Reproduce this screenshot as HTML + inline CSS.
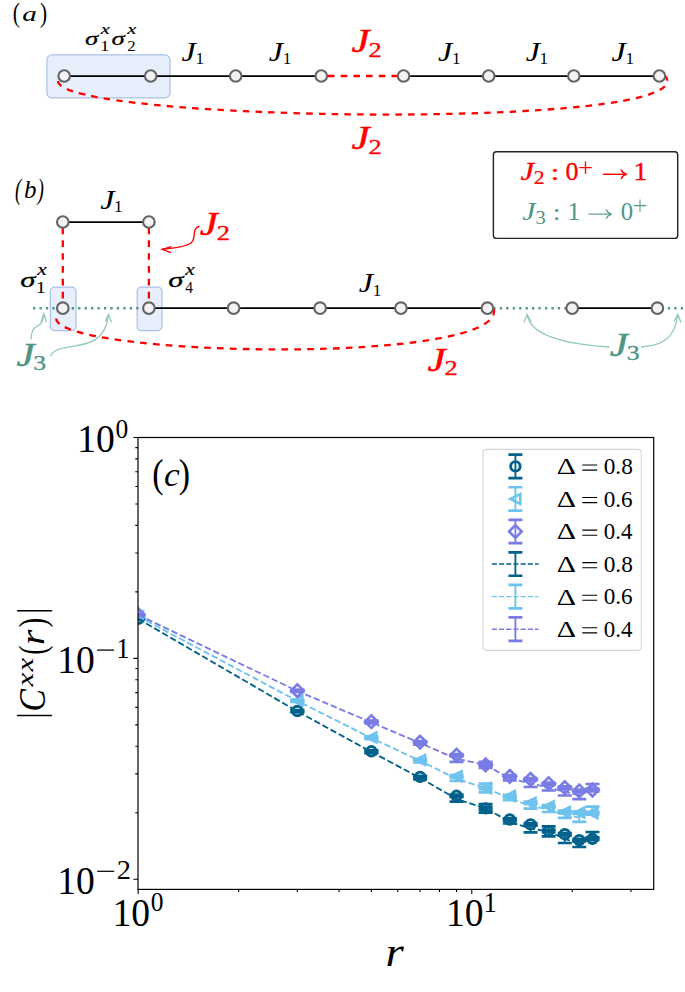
<!DOCTYPE html>
<html><head><meta charset="utf-8"><title>figure</title>
<style>
html,body{margin:0;padding:0;background:#fff;}
body{width:685px;height:992px;overflow:hidden;font-family:'Liberation Serif',serif;}
svg{display:block;font-family:'Liberation Serif',serif;}
</style></head><body>
<svg width="685" height="992" viewBox="0 0 685 992">
<rect width="685" height="992" fill="#fff"/>
<text transform="translate(12.76,21.73) scale(0.2141,0.2757)" font-size="100" fill="#000" style="" >(</text><text transform="translate(22.33,21.38) scale(0.2913,0.2142)" font-size="100" fill="#000" style="font-style:italic;" >a</text><text transform="translate(40.01,21.73) scale(0.2141,0.2757)" font-size="100" fill="#000" style="" >)</text>
<rect x="46.9" y="54.9" width="123.1" height="43" rx="5" fill="#e7eefc" stroke="#a9c0e8" stroke-width="1.2"/>
<path d="M 58,81 C 57,121.7 703.1,131.2 665.8,76.5" fill="none" stroke="#ff0000" stroke-width="2.3" stroke-dasharray="6.5,6.2"/>
<line x1="64.2" y1="76" x2="321.3" y2="76" stroke="#000" stroke-width="1.75"/>
<line x1="321.3" y1="76" x2="403.6" y2="76" stroke="#ff0000" stroke-width="2.3" stroke-dasharray="6.5,6.2" stroke-dashoffset="6.0"/>
<line x1="403.6" y1="76" x2="659.4" y2="76" stroke="#000" stroke-width="1.75"/>
<circle cx="64.2" cy="76" r="5.8" fill="#f2f2f2" stroke="#646464" stroke-width="2.1"/>
<circle cx="150.7" cy="76" r="5.8" fill="#f2f2f2" stroke="#646464" stroke-width="2.1"/>
<circle cx="235.7" cy="76" r="5.8" fill="#f2f2f2" stroke="#646464" stroke-width="2.1"/>
<circle cx="321.3" cy="76" r="5.8" fill="#f2f2f2" stroke="#646464" stroke-width="2.1"/>
<circle cx="403.6" cy="76" r="5.8" fill="#f2f2f2" stroke="#646464" stroke-width="2.1"/>
<circle cx="488.7" cy="76" r="5.8" fill="#f2f2f2" stroke="#646464" stroke-width="2.1"/>
<circle cx="573.8" cy="76" r="5.8" fill="#f2f2f2" stroke="#646464" stroke-width="2.1"/>
<circle cx="659.4" cy="76" r="5.8" fill="#f2f2f2" stroke="#646464" stroke-width="2.1"/>
<text transform="translate(84.90,45.21) scale(0.2686,0.1941)" font-size="100" fill="#000" style="font-style:italic;" stroke="#000" stroke-width="1.3">σ</text><text transform="translate(100.65,33.70) scale(0.2050,0.1547)" font-size="100" fill="#000" style="font-style:italic;" stroke="#000" stroke-width="1.3">x</text><text transform="translate(99.93,51.10) scale(0.1903,0.1545)" font-size="100" fill="#000" style="" >1</text>
<text transform="translate(111.40,45.21) scale(0.2686,0.1941)" font-size="100" fill="#000" style="font-style:italic;" stroke="#000" stroke-width="1.3">σ</text><text transform="translate(127.15,33.70) scale(0.2050,0.1547)" font-size="100" fill="#000" style="font-style:italic;" stroke="#000" stroke-width="1.3">x</text><text transform="translate(127.37,51.10) scale(0.1671,0.1541)" font-size="100" fill="#000" style="" >2</text>
<text transform="translate(181.51,60.64) scale(0.3207,0.2633)" font-size="100" fill="#000" style="font-style:italic;" >J</text><text transform="translate(195.38,64.40) scale(0.1733,0.1666)" font-size="100" fill="#000" style="" >1</text>
<text transform="translate(268.81,60.64) scale(0.3207,0.2633)" font-size="100" fill="#000" style="font-style:italic;" >J</text><text transform="translate(282.68,64.40) scale(0.1733,0.1666)" font-size="100" fill="#000" style="" >1</text>
<text transform="translate(438.11,60.64) scale(0.3207,0.2633)" font-size="100" fill="#000" style="font-style:italic;" >J</text><text transform="translate(451.98,64.40) scale(0.1733,0.1666)" font-size="100" fill="#000" style="" >1</text>
<text transform="translate(525.71,60.64) scale(0.3207,0.2633)" font-size="100" fill="#000" style="font-style:italic;" >J</text><text transform="translate(539.58,64.40) scale(0.1733,0.1666)" font-size="100" fill="#000" style="" >1</text>
<text transform="translate(611.61,60.64) scale(0.3207,0.2633)" font-size="100" fill="#000" style="font-style:italic;" >J</text><text transform="translate(625.48,64.40) scale(0.1733,0.1666)" font-size="100" fill="#000" style="" >1</text>
<text transform="translate(351.39,52.37) scale(0.4062,0.3386)" font-size="100" fill="#ff0000" style="font-style:italic;" stroke="#ff0000" stroke-width="1.5">J</text><text transform="translate(368.44,57.00) scale(0.2644,0.2145)" font-size="100" fill="#ff0000" style="" stroke="#ff0000" stroke-width="1.6">2</text>
<text transform="translate(351.39,149.37) scale(0.4062,0.3386)" font-size="100" fill="#ff0000" style="font-style:italic;" stroke="#ff0000" stroke-width="1.5">J</text><text transform="translate(368.44,154.00) scale(0.2644,0.2145)" font-size="100" fill="#ff0000" style="" stroke="#ff0000" stroke-width="1.6">2</text>
<rect x="493.4" y="151.8" width="184.3" height="86.6" rx="3" fill="#fff" stroke="#222" stroke-width="1.4"/>
<text transform="translate(520.44,179.95) scale(0.3057,0.2543)" font-size="100" fill="#ff0000" style="font-style:italic;" stroke="#ff0000" stroke-width="1.3">J</text><text transform="translate(533.65,183.90) scale(0.2170,0.1888)" font-size="100" fill="#ff0000" style="" stroke="#ff0000" stroke-width="1.3">2</text>
<text transform="translate(550.55,179.87) scale(0.3229,0.2358)" font-size="100" fill="#ff0000" style="" stroke="#ff0000" stroke-width="1.3">:</text>
<text transform="translate(565.61,180.25) scale(0.2595,0.2549)" font-size="100" fill="#ff0000" style="" stroke="#ff0000" stroke-width="1.3">0</text>
<path d="M 579.30,167.60 H 591.70 M 585.50,161.40 V 173.80" stroke="#ff0000" stroke-width="1.35" fill="none"/>
<path d="M 603.00,174.30 H 626.00" stroke="#ff0000" stroke-width="1.45" fill="none"/><path d="M 621.40,170.00 C 622.40,172.70 624.40,173.80 626.60,174.30 C 624.40,174.80 622.40,175.90 621.40,178.60" stroke="#ff0000" stroke-width="1.45" fill="none" stroke-linecap="round"/>
<text transform="translate(633.55,180.20) scale(0.2784,0.2560)" font-size="100" fill="#ff0000" style="" stroke="#ff0000" stroke-width="1.3">1</text>
<text transform="translate(522.25,219.85) scale(0.2993,0.2513)" font-size="100" fill="#4f9585" style="font-style:italic;" >J</text><text transform="translate(535.52,223.71) scale(0.2058,0.1935)" font-size="100" fill="#4f9585" style="" >3</text>
<text transform="translate(552.55,219.77) scale(0.2974,0.2338)" font-size="100" fill="#4f9585" style="" >:</text>
<text transform="translate(567.55,220.10) scale(0.2556,0.2530)" font-size="100" fill="#4f9585" style="" >1</text>
<path d="M 588.40,214.10 H 611.00" stroke="#4f9585" stroke-width="1.1" fill="none"/><path d="M 606.40,209.80 C 607.40,212.50 609.40,213.60 611.60,214.10 C 609.40,214.60 607.40,215.70 606.40,218.40" stroke="#4f9585" stroke-width="1.1" fill="none" stroke-linecap="round"/>
<text transform="translate(620.76,220.15) scale(0.2477,0.2519)" font-size="100" fill="#4f9585" style="" >0</text>
<path d="M 633.80,205.60 H 646.20 M 640.00,199.40 V 211.80" stroke="#4f9585" stroke-width="1.05" fill="none"/>
<text transform="translate(15.03,198.75) scale(0.1919,0.2934)" font-size="100" fill="#000" style="font-style:italic;" >(</text><text transform="translate(23.97,198.14) scale(0.2496,0.2615)" font-size="100" fill="#000" style="font-style:italic;" >b</text><text transform="translate(37.51,198.75) scale(0.1916,0.2934)" font-size="100" fill="#000" style="font-style:italic;" >)</text>
<rect x="50.4" y="287.2" width="25.6" height="43.4" rx="4" fill="#e7eefc" stroke="#a9c0e8" stroke-width="1.2"/>
<rect x="137.2" y="287.2" width="24.8" height="43.4" rx="4" fill="#e7eefc" stroke="#a9c0e8" stroke-width="1.2"/>
<line x1="33" y1="308.2" x2="148.9" y2="308.2" stroke="#4f9585" stroke-width="2.35" stroke-dasharray="2.25,4.2"/>
<line x1="487.4" y1="308.2" x2="572.2" y2="308.2" stroke="#4f9585" stroke-width="2.35" stroke-dasharray="2.25,4.2" stroke-dashoffset="0.5"/>
<line x1="657.4" y1="308.2" x2="686" y2="308.2" stroke="#4f9585" stroke-width="2.35" stroke-dasharray="2.25,4.2" stroke-dashoffset="-4"/>
<line x1="62.8" y1="222" x2="62.8" y2="308.2" stroke="#ff0000" stroke-width="2.3" stroke-dasharray="6.7,6.15" fill="none" stroke-dashoffset="7.4"/>
<line x1="148.9" y1="222" x2="148.9" y2="308.2" stroke="#ff0000" stroke-width="2.3" stroke-dasharray="6.7,6.15" fill="none" stroke-dashoffset="7.4"/>
<path d="M 56.2,318.5 C 57.0,356.5 509.4,366.5 493.7,308.0" stroke="#ff0000" stroke-width="2.3" stroke-dasharray="6.7,6.15" fill="none"/>
<line x1="62.8" y1="222" x2="148.9" y2="222" stroke="#000" stroke-width="1.75"/>
<line x1="148.9" y1="308.2" x2="487.4" y2="308.2" stroke="#000" stroke-width="1.75"/>
<line x1="572.2" y1="308.2" x2="657.4" y2="308.2" stroke="#000" stroke-width="1.75"/>
<circle cx="62.8" cy="222" r="5.8" fill="#f2f2f2" stroke="#646464" stroke-width="2.1"/>
<circle cx="148.9" cy="222" r="5.8" fill="#f2f2f2" stroke="#646464" stroke-width="2.1"/>
<circle cx="62.8" cy="308.2" r="5.8" fill="#f2f2f2" stroke="#646464" stroke-width="2.1"/>
<circle cx="148.9" cy="308.2" r="5.8" fill="#f2f2f2" stroke="#646464" stroke-width="2.1"/>
<circle cx="233.6" cy="308.2" r="5.8" fill="#f2f2f2" stroke="#646464" stroke-width="2.1"/>
<circle cx="320.1" cy="308.2" r="5.8" fill="#f2f2f2" stroke="#646464" stroke-width="2.1"/>
<circle cx="400.9" cy="308.2" r="5.8" fill="#f2f2f2" stroke="#646464" stroke-width="2.1"/>
<circle cx="487.4" cy="308.2" r="5.8" fill="#f2f2f2" stroke="#646464" stroke-width="2.1"/>
<circle cx="572.2" cy="308.2" r="5.8" fill="#f2f2f2" stroke="#646464" stroke-width="2.1"/>
<circle cx="657.4" cy="308.2" r="5.8" fill="#f2f2f2" stroke="#646464" stroke-width="2.1"/>
<text transform="translate(100.21,208.54) scale(0.3207,0.2633)" font-size="100" fill="#000" style="font-style:italic;" >J</text><text transform="translate(114.08,212.30) scale(0.1733,0.1666)" font-size="100" fill="#000" style="" >1</text>
<text transform="translate(358.81,292.04) scale(0.3207,0.2633)" font-size="100" fill="#000" style="font-style:italic;" >J</text><text transform="translate(372.68,295.80) scale(0.1733,0.1666)" font-size="100" fill="#000" style="" >1</text>
<text transform="translate(199.79,235.27) scale(0.4062,0.3386)" font-size="100" fill="#ff0000" style="font-style:italic;" stroke="#ff0000" stroke-width="1.5">J</text><text transform="translate(216.84,239.90) scale(0.2644,0.2145)" font-size="100" fill="#ff0000" style="" stroke="#ff0000" stroke-width="1.6">2</text>
<text transform="translate(427.39,370.67) scale(0.4062,0.3386)" font-size="100" fill="#ff0000" style="font-style:italic;" stroke="#ff0000" stroke-width="1.5">J</text><text transform="translate(444.44,375.30) scale(0.2644,0.2145)" font-size="100" fill="#ff0000" style="" stroke="#ff0000" stroke-width="1.6">2</text>
<text transform="translate(16.39,365.57) scale(0.4062,0.3386)" font-size="100" fill="#4f9585" style="font-style:italic;" stroke="#4f9585" stroke-width="1.5">J</text><text transform="translate(33.37,369.99) scale(0.2566,0.2113)" font-size="100" fill="#4f9585" style="" stroke="#4f9585" stroke-width="1.6">3</text>
<text transform="translate(609.69,355.57) scale(0.4062,0.3386)" font-size="100" fill="#4f9585" style="font-style:italic;" stroke="#4f9585" stroke-width="1.5">J</text><text transform="translate(626.67,359.99) scale(0.2566,0.2113)" font-size="100" fill="#4f9585" style="" stroke="#4f9585" stroke-width="1.6">3</text>
<text transform="translate(20.18,286.89) scale(0.3090,0.2113)" font-size="100" fill="#000" style="font-style:italic;" stroke="#000" stroke-width="1.3">σ</text><text transform="translate(37.16,274.90) scale(0.2139,0.1656)" font-size="100" fill="#000" style="font-style:italic;" stroke="#000" stroke-width="1.3">x</text><text transform="translate(35.70,293.00) scale(0.2045,0.1681)" font-size="100" fill="#000" style="" >1</text>
<text transform="translate(168.28,286.89) scale(0.3090,0.2113)" font-size="100" fill="#000" style="font-style:italic;" stroke="#000" stroke-width="1.3">σ</text><text transform="translate(185.26,274.90) scale(0.2139,0.1656)" font-size="100" fill="#000" style="font-style:italic;" stroke="#000" stroke-width="1.3">x</text><text transform="translate(185.30,293.00) scale(0.1549,0.1686)" font-size="100" fill="#000" style="" >4</text>
<path d="M 199.6,226.3 C 191,228 197,238 191,243 C 185,247.5 172,248 162.5,249.2" fill="none" stroke="#ff0000" stroke-width="1.4"/>
<path d="M 171.5,246.6 L 162.3,249.3 L 171,252.6" fill="none" stroke="#ff0000" stroke-width="1.4"/>
<path d="M 31,339.5 C 31.3,331.5 33,328.3 37.2,326.2 C 41.3,324.2 43,321.5 43.8,314.2" fill="none" stroke="#93c9b9" stroke-width="1.3"/>
<path d="M 41,321.6 L 43.8,313.8 L 46.5,322" fill="none" stroke="#93c9b9" stroke-width="1.3"/>
<path d="M 50.3,356.2 C 60,338 104,358 108.5,314.8" fill="none" stroke="#93c9b9" stroke-width="1.3"/>
<path d="M 105.3,321.8 L 108.5,314.3 L 111.4,322.3" fill="none" stroke="#93c9b9" stroke-width="1.3"/>
<path d="M 609.5,347 C 575,345 531,338 527.2,315" fill="none" stroke="#93c9b9" stroke-width="1.3"/>
<path d="M 523.8,322.4 L 527.1,314.4 L 531.2,321.8" fill="none" stroke="#93c9b9" stroke-width="1.3"/>
<path d="M 641,347 C 662,346 675,338 677.8,315" fill="none" stroke="#93c9b9" stroke-width="1.3"/>
<path d="M 674,321.8 L 677.8,314.4 L 681,322.4" fill="none" stroke="#93c9b9" stroke-width="1.3"/>
<path d="M 133.4,437.50 H 138.0 M 133.4,658.40 H 138.0 M 133.4,879.30 H 138.0 M 135.3,591.90 H 138.0 M 135.3,553.00 H 138.0 M 135.3,525.40 H 138.0 M 135.3,504.00 H 138.0 M 135.3,486.51 H 138.0 M 135.3,471.72 H 138.0 M 135.3,458.91 H 138.0 M 135.3,447.61 H 138.0 M 135.3,812.80 H 138.0 M 135.3,773.90 H 138.0 M 135.3,746.30 H 138.0 M 135.3,724.90 H 138.0 M 135.3,707.41 H 138.0 M 135.3,692.62 H 138.0 M 135.3,679.81 H 138.0 M 135.3,668.51 H 138.0 M 138.20,889.4 V 894.0 M 471.80,889.4 V 894.0 M 238.62,889.4 V 892.1 M 297.37,889.4 V 892.1 M 339.05,889.4 V 892.1 M 371.38,889.4 V 892.1 M 397.79,889.4 V 892.1 M 420.12,889.4 V 892.1 M 439.47,889.4 V 892.1 M 456.54,889.4 V 892.1 M 572.22,889.4 V 892.1 M 630.97,889.4 V 892.1" stroke="#000" stroke-width="1.1" fill="none"/>
<clipPath id="cp"><rect x="138.0" y="437.5" width="515.7" height="451.9"/></clipPath>
<g clip-path="url(#cp)">
<path d="M 138.20,618.50 V 619.10" stroke="#00628b" stroke-width="1.85" fill="none"/><path d="M 131.20,618.50 H 145.20 M 131.20,619.10 H 145.20" stroke="#00628b" stroke-width="2.7" fill="none"/>
<circle cx="138.20" cy="618.80" r="4.75" fill="none" stroke="#00628b" stroke-width="2.9"/>
<path d="M 297.37,710.20 V 711.80" stroke="#00628b" stroke-width="1.85" fill="none"/><path d="M 290.37,710.20 H 304.37 M 290.37,711.80 H 304.37" stroke="#00628b" stroke-width="2.7" fill="none"/>
<circle cx="297.37" cy="711.00" r="4.75" fill="none" stroke="#00628b" stroke-width="2.9"/>
<path d="M 371.38,750.30 V 752.30" stroke="#00628b" stroke-width="1.85" fill="none"/><path d="M 364.38,750.30 H 378.38 M 364.38,752.30 H 378.38" stroke="#00628b" stroke-width="2.7" fill="none"/>
<circle cx="371.38" cy="751.30" r="4.75" fill="none" stroke="#00628b" stroke-width="2.9"/>
<path d="M 420.12,775.80 V 778.00" stroke="#00628b" stroke-width="1.85" fill="none"/><path d="M 413.12,775.80 H 427.12 M 413.12,778.00 H 427.12" stroke="#00628b" stroke-width="2.7" fill="none"/>
<circle cx="420.12" cy="776.90" r="4.75" fill="none" stroke="#00628b" stroke-width="2.9"/>
<path d="M 456.54,794.60 V 797.00" stroke="#00628b" stroke-width="1.85" fill="none"/><path d="M 449.54,794.60 H 463.54 M 449.54,797.00 H 463.54" stroke="#00628b" stroke-width="2.7" fill="none"/>
<circle cx="456.54" cy="795.80" r="4.75" fill="none" stroke="#00628b" stroke-width="2.9"/>
<path d="M 485.61,807.20 V 809.60" stroke="#00628b" stroke-width="1.85" fill="none"/><path d="M 478.61,807.20 H 492.61 M 478.61,809.60 H 492.61" stroke="#00628b" stroke-width="2.7" fill="none"/>
<circle cx="485.61" cy="808.40" r="4.75" fill="none" stroke="#00628b" stroke-width="2.9"/>
<path d="M 509.81,818.30 V 820.70" stroke="#00628b" stroke-width="1.85" fill="none"/><path d="M 502.81,818.30 H 516.81 M 502.81,820.70 H 516.81" stroke="#00628b" stroke-width="2.7" fill="none"/>
<circle cx="509.81" cy="819.50" r="4.75" fill="none" stroke="#00628b" stroke-width="2.9"/>
<path d="M 530.54,823.20 V 825.60" stroke="#00628b" stroke-width="1.85" fill="none"/><path d="M 523.54,823.20 H 537.54 M 523.54,825.60 H 537.54" stroke="#00628b" stroke-width="2.7" fill="none"/>
<circle cx="530.54" cy="824.40" r="4.75" fill="none" stroke="#00628b" stroke-width="2.9"/>
<path d="M 548.68,829.80 V 832.20" stroke="#00628b" stroke-width="1.85" fill="none"/><path d="M 541.68,829.80 H 555.68 M 541.68,832.20 H 555.68" stroke="#00628b" stroke-width="2.7" fill="none"/>
<circle cx="548.68" cy="831.00" r="4.75" fill="none" stroke="#00628b" stroke-width="2.9"/>
<path d="M 564.79,833.00 V 835.40" stroke="#00628b" stroke-width="1.85" fill="none"/><path d="M 557.79,833.00 H 571.79 M 557.79,835.40 H 571.79" stroke="#00628b" stroke-width="2.7" fill="none"/>
<circle cx="564.79" cy="834.20" r="4.75" fill="none" stroke="#00628b" stroke-width="2.9"/>
<path d="M 579.29,838.80 V 841.40" stroke="#00628b" stroke-width="1.85" fill="none"/><path d="M 572.29,838.80 H 586.29 M 572.29,841.40 H 586.29" stroke="#00628b" stroke-width="2.7" fill="none"/>
<circle cx="579.29" cy="840.10" r="4.75" fill="none" stroke="#00628b" stroke-width="2.9"/>
<path d="M 592.47,837.40 V 840.20" stroke="#00628b" stroke-width="1.85" fill="none"/><path d="M 585.47,837.40 H 599.47 M 585.47,840.20 H 599.47" stroke="#00628b" stroke-width="2.7" fill="none"/>
<circle cx="592.47" cy="838.80" r="4.75" fill="none" stroke="#00628b" stroke-width="2.9"/>
<path d="M 138.20,616.00 V 616.60" stroke="#6ec3ee" stroke-width="1.85" fill="none"/><path d="M 131.20,616.00 H 145.20 M 131.20,616.60 H 145.20" stroke="#6ec3ee" stroke-width="2.7" fill="none"/>
<path d="M 133.30,616.30 L 143.10,611.40 L 143.10,621.20 Z" fill="none" stroke="#6ec3ee" stroke-width="2.6" stroke-linejoin="miter"/>
<path d="M 297.37,699.80 V 701.40" stroke="#6ec3ee" stroke-width="1.85" fill="none"/><path d="M 290.37,699.80 H 304.37 M 290.37,701.40 H 304.37" stroke="#6ec3ee" stroke-width="2.7" fill="none"/>
<path d="M 292.47,700.60 L 302.27,695.70 L 302.27,705.50 Z" fill="none" stroke="#6ec3ee" stroke-width="2.6" stroke-linejoin="miter"/>
<path d="M 371.38,736.40 V 738.40" stroke="#6ec3ee" stroke-width="1.85" fill="none"/><path d="M 364.38,736.40 H 378.38 M 364.38,738.40 H 378.38" stroke="#6ec3ee" stroke-width="2.7" fill="none"/>
<path d="M 366.48,737.40 L 376.28,732.50 L 376.28,742.30 Z" fill="none" stroke="#6ec3ee" stroke-width="2.6" stroke-linejoin="miter"/>
<path d="M 420.12,758.80 V 761.00" stroke="#6ec3ee" stroke-width="1.85" fill="none"/><path d="M 413.12,758.80 H 427.12 M 413.12,761.00 H 427.12" stroke="#6ec3ee" stroke-width="2.7" fill="none"/>
<path d="M 415.22,759.90 L 425.02,755.00 L 425.02,764.80 Z" fill="none" stroke="#6ec3ee" stroke-width="2.6" stroke-linejoin="miter"/>
<path d="M 456.54,775.00 V 777.40" stroke="#6ec3ee" stroke-width="1.85" fill="none"/><path d="M 449.54,775.00 H 463.54 M 449.54,777.40 H 463.54" stroke="#6ec3ee" stroke-width="2.7" fill="none"/>
<path d="M 451.64,776.20 L 461.44,771.30 L 461.44,781.10 Z" fill="none" stroke="#6ec3ee" stroke-width="2.6" stroke-linejoin="miter"/>
<path d="M 485.61,786.80 V 789.20" stroke="#6ec3ee" stroke-width="1.85" fill="none"/><path d="M 478.61,786.80 H 492.61 M 478.61,789.20 H 492.61" stroke="#6ec3ee" stroke-width="2.7" fill="none"/>
<path d="M 480.71,788.00 L 490.51,783.10 L 490.51,792.90 Z" fill="none" stroke="#6ec3ee" stroke-width="2.6" stroke-linejoin="miter"/>
<path d="M 509.81,794.90 V 797.30" stroke="#6ec3ee" stroke-width="1.85" fill="none"/><path d="M 502.81,794.90 H 516.81 M 502.81,797.30 H 516.81" stroke="#6ec3ee" stroke-width="2.7" fill="none"/>
<path d="M 504.91,796.10 L 514.71,791.20 L 514.71,801.00 Z" fill="none" stroke="#6ec3ee" stroke-width="2.6" stroke-linejoin="miter"/>
<path d="M 530.54,801.50 V 803.90" stroke="#6ec3ee" stroke-width="1.85" fill="none"/><path d="M 523.54,801.50 H 537.54 M 523.54,803.90 H 537.54" stroke="#6ec3ee" stroke-width="2.7" fill="none"/>
<path d="M 525.64,802.70 L 535.44,797.80 L 535.44,807.60 Z" fill="none" stroke="#6ec3ee" stroke-width="2.6" stroke-linejoin="miter"/>
<path d="M 548.68,805.10 V 807.50" stroke="#6ec3ee" stroke-width="1.85" fill="none"/><path d="M 541.68,805.10 H 555.68 M 541.68,807.50 H 555.68" stroke="#6ec3ee" stroke-width="2.7" fill="none"/>
<path d="M 543.78,806.30 L 553.58,801.40 L 553.58,811.20 Z" fill="none" stroke="#6ec3ee" stroke-width="2.6" stroke-linejoin="miter"/>
<path d="M 564.79,810.70 V 813.10" stroke="#6ec3ee" stroke-width="1.85" fill="none"/><path d="M 557.79,810.70 H 571.79 M 557.79,813.10 H 571.79" stroke="#6ec3ee" stroke-width="2.7" fill="none"/>
<path d="M 559.89,811.90 L 569.69,807.00 L 569.69,816.80 Z" fill="none" stroke="#6ec3ee" stroke-width="2.6" stroke-linejoin="miter"/>
<path d="M 579.29,811.30 V 813.90" stroke="#6ec3ee" stroke-width="1.85" fill="none"/><path d="M 572.29,811.30 H 586.29 M 572.29,813.90 H 586.29" stroke="#6ec3ee" stroke-width="2.7" fill="none"/>
<path d="M 574.39,812.60 L 584.19,807.70 L 584.19,817.50 Z" fill="none" stroke="#6ec3ee" stroke-width="2.6" stroke-linejoin="miter"/>
<path d="M 592.47,811.80 V 814.60" stroke="#6ec3ee" stroke-width="1.85" fill="none"/><path d="M 585.47,811.80 H 599.47 M 585.47,814.60 H 599.47" stroke="#6ec3ee" stroke-width="2.7" fill="none"/>
<path d="M 587.57,813.20 L 597.37,808.30 L 597.37,818.10 Z" fill="none" stroke="#6ec3ee" stroke-width="2.6" stroke-linejoin="miter"/>
<path d="M 138.20,614.50 V 615.10" stroke="#7a7ce6" stroke-width="1.85" fill="none"/><path d="M 131.20,614.50 H 145.20 M 131.20,615.10 H 145.20" stroke="#7a7ce6" stroke-width="2.7" fill="none"/>
<path d="M 138.20,608.50 L 144.50,614.80 L 138.20,621.10 L 131.90,614.80 Z" fill="none" stroke="#7a7ce6" stroke-width="2.6" stroke-linejoin="miter"/>
<path d="M 297.37,689.90 V 691.50" stroke="#7a7ce6" stroke-width="1.85" fill="none"/><path d="M 290.37,689.90 H 304.37 M 290.37,691.50 H 304.37" stroke="#7a7ce6" stroke-width="2.7" fill="none"/>
<path d="M 297.37,684.40 L 303.67,690.70 L 297.37,697.00 L 291.07,690.70 Z" fill="none" stroke="#7a7ce6" stroke-width="2.6" stroke-linejoin="miter"/>
<path d="M 371.38,720.70 V 722.70" stroke="#7a7ce6" stroke-width="1.85" fill="none"/><path d="M 364.38,720.70 H 378.38 M 364.38,722.70 H 378.38" stroke="#7a7ce6" stroke-width="2.7" fill="none"/>
<path d="M 371.38,715.40 L 377.68,721.70 L 371.38,728.00 L 365.08,721.70 Z" fill="none" stroke="#7a7ce6" stroke-width="2.6" stroke-linejoin="miter"/>
<path d="M 420.12,741.00 V 743.20" stroke="#7a7ce6" stroke-width="1.85" fill="none"/><path d="M 413.12,741.00 H 427.12 M 413.12,743.20 H 427.12" stroke="#7a7ce6" stroke-width="2.7" fill="none"/>
<path d="M 420.12,735.80 L 426.42,742.10 L 420.12,748.40 L 413.82,742.10 Z" fill="none" stroke="#7a7ce6" stroke-width="2.6" stroke-linejoin="miter"/>
<path d="M 456.54,754.00 V 756.40" stroke="#7a7ce6" stroke-width="1.85" fill="none"/><path d="M 449.54,754.00 H 463.54 M 449.54,756.40 H 463.54" stroke="#7a7ce6" stroke-width="2.7" fill="none"/>
<path d="M 456.54,748.90 L 462.84,755.20 L 456.54,761.50 L 450.24,755.20 Z" fill="none" stroke="#7a7ce6" stroke-width="2.6" stroke-linejoin="miter"/>
<path d="M 485.61,763.60 V 766.00" stroke="#7a7ce6" stroke-width="1.85" fill="none"/><path d="M 478.61,763.60 H 492.61 M 478.61,766.00 H 492.61" stroke="#7a7ce6" stroke-width="2.7" fill="none"/>
<path d="M 485.61,758.50 L 491.91,764.80 L 485.61,771.10 L 479.31,764.80 Z" fill="none" stroke="#7a7ce6" stroke-width="2.6" stroke-linejoin="miter"/>
<path d="M 509.81,775.10 V 777.50" stroke="#7a7ce6" stroke-width="1.85" fill="none"/><path d="M 502.81,775.10 H 516.81 M 502.81,777.50 H 516.81" stroke="#7a7ce6" stroke-width="2.7" fill="none"/>
<path d="M 509.81,770.00 L 516.11,776.30 L 509.81,782.60 L 503.51,776.30 Z" fill="none" stroke="#7a7ce6" stroke-width="2.6" stroke-linejoin="miter"/>
<path d="M 530.54,778.10 V 780.50" stroke="#7a7ce6" stroke-width="1.85" fill="none"/><path d="M 523.54,778.10 H 537.54 M 523.54,780.50 H 537.54" stroke="#7a7ce6" stroke-width="2.7" fill="none"/>
<path d="M 530.54,773.00 L 536.84,779.30 L 530.54,785.60 L 524.24,779.30 Z" fill="none" stroke="#7a7ce6" stroke-width="2.6" stroke-linejoin="miter"/>
<path d="M 548.68,782.50 V 784.90" stroke="#7a7ce6" stroke-width="1.85" fill="none"/><path d="M 541.68,782.50 H 555.68 M 541.68,784.90 H 555.68" stroke="#7a7ce6" stroke-width="2.7" fill="none"/>
<path d="M 548.68,777.40 L 554.98,783.70 L 548.68,790.00 L 542.38,783.70 Z" fill="none" stroke="#7a7ce6" stroke-width="2.6" stroke-linejoin="miter"/>
<path d="M 564.79,786.40 V 788.80" stroke="#7a7ce6" stroke-width="1.85" fill="none"/><path d="M 557.79,786.40 H 571.79 M 557.79,788.80 H 571.79" stroke="#7a7ce6" stroke-width="2.7" fill="none"/>
<path d="M 564.79,781.30 L 571.09,787.60 L 564.79,793.90 L 558.49,787.60 Z" fill="none" stroke="#7a7ce6" stroke-width="2.6" stroke-linejoin="miter"/>
<path d="M 579.29,789.60 V 792.20" stroke="#7a7ce6" stroke-width="1.85" fill="none"/><path d="M 572.29,789.60 H 586.29 M 572.29,792.20 H 586.29" stroke="#7a7ce6" stroke-width="2.7" fill="none"/>
<path d="M 579.29,784.60 L 585.59,790.90 L 579.29,797.20 L 572.99,790.90 Z" fill="none" stroke="#7a7ce6" stroke-width="2.6" stroke-linejoin="miter"/>
<path d="M 592.47,788.60 V 791.40" stroke="#7a7ce6" stroke-width="1.85" fill="none"/><path d="M 585.47,788.60 H 599.47 M 585.47,791.40 H 599.47" stroke="#7a7ce6" stroke-width="2.7" fill="none"/>
<path d="M 592.47,783.70 L 598.77,790.00 L 592.47,796.30 L 586.17,790.00 Z" fill="none" stroke="#7a7ce6" stroke-width="2.6" stroke-linejoin="miter"/>
<polyline points="138.20,618.85 297.37,711.35 371.38,751.95 420.12,777.90 456.54,799.00 485.61,808.40 509.81,821.80 530.54,828.65 548.68,831.30 564.79,838.90 579.29,843.85 592.47,835.10" fill="none" stroke="#00628b" stroke-width="1.85" stroke-dasharray="6.4,2.85"/>
<path d="M 138.20,618.30 V 619.40" stroke="#00628b" stroke-width="1.85" fill="none"/><path d="M 131.20,618.30 H 145.20 M 131.20,619.40 H 145.20" stroke="#00628b" stroke-width="2.7" fill="none"/>
<path d="M 297.37,710.50 V 712.20" stroke="#00628b" stroke-width="1.85" fill="none"/><path d="M 290.37,710.50 H 304.37 M 290.37,712.20 H 304.37" stroke="#00628b" stroke-width="2.7" fill="none"/>
<path d="M 371.38,750.80 V 753.10" stroke="#00628b" stroke-width="1.85" fill="none"/><path d="M 364.38,750.80 H 378.38 M 364.38,753.10 H 378.38" stroke="#00628b" stroke-width="2.7" fill="none"/>
<path d="M 420.12,776.40 V 779.40" stroke="#00628b" stroke-width="1.85" fill="none"/><path d="M 413.12,776.40 H 427.12 M 413.12,779.40 H 427.12" stroke="#00628b" stroke-width="2.7" fill="none"/>
<path d="M 456.54,796.40 V 801.60" stroke="#00628b" stroke-width="1.85" fill="none"/><path d="M 449.54,796.40 H 463.54 M 449.54,801.60 H 463.54" stroke="#00628b" stroke-width="2.7" fill="none"/>
<path d="M 485.61,804.10 V 812.70" stroke="#00628b" stroke-width="1.85" fill="none"/><path d="M 478.61,804.10 H 492.61 M 478.61,812.70 H 492.61" stroke="#00628b" stroke-width="2.7" fill="none"/>
<path d="M 509.81,820.10 V 823.50" stroke="#00628b" stroke-width="1.85" fill="none"/><path d="M 502.81,820.10 H 516.81 M 502.81,823.50 H 516.81" stroke="#00628b" stroke-width="2.7" fill="none"/>
<path d="M 530.54,825.00 V 832.30" stroke="#00628b" stroke-width="1.85" fill="none"/><path d="M 523.54,825.00 H 537.54 M 523.54,832.30 H 537.54" stroke="#00628b" stroke-width="2.7" fill="none"/>
<path d="M 548.68,826.30 V 836.30" stroke="#00628b" stroke-width="1.85" fill="none"/><path d="M 541.68,826.30 H 555.68 M 541.68,836.30 H 555.68" stroke="#00628b" stroke-width="2.7" fill="none"/>
<path d="M 564.79,834.80 V 843.00" stroke="#00628b" stroke-width="1.85" fill="none"/><path d="M 557.79,834.80 H 571.79 M 557.79,843.00 H 571.79" stroke="#00628b" stroke-width="2.7" fill="none"/>
<path d="M 579.29,840.70 V 847.00" stroke="#00628b" stroke-width="1.85" fill="none"/><path d="M 572.29,840.70 H 586.29 M 572.29,847.00 H 586.29" stroke="#00628b" stroke-width="2.7" fill="none"/>
<path d="M 592.47,832.00 V 838.20" stroke="#00628b" stroke-width="1.85" fill="none"/><path d="M 585.47,832.00 H 599.47 M 585.47,838.20 H 599.47" stroke="#00628b" stroke-width="2.7" fill="none"/>
<polyline points="138.20,616.35 297.37,700.95 371.38,738.05 420.12,760.90 456.54,778.85 485.61,788.00 509.81,798.40 530.54,805.95 548.68,809.45 564.79,815.15 579.29,817.50 592.47,809.60" fill="none" stroke="#6ec3ee" stroke-width="1.85" stroke-dasharray="6.4,2.85"/>
<path d="M 138.20,615.80 V 616.90" stroke="#6ec3ee" stroke-width="1.85" fill="none"/><path d="M 131.20,615.80 H 145.20 M 131.20,616.90 H 145.20" stroke="#6ec3ee" stroke-width="2.7" fill="none"/>
<path d="M 297.37,700.10 V 701.80" stroke="#6ec3ee" stroke-width="1.85" fill="none"/><path d="M 290.37,700.10 H 304.37 M 290.37,701.80 H 304.37" stroke="#6ec3ee" stroke-width="2.7" fill="none"/>
<path d="M 371.38,736.90 V 739.20" stroke="#6ec3ee" stroke-width="1.85" fill="none"/><path d="M 364.38,736.90 H 378.38 M 364.38,739.20 H 378.38" stroke="#6ec3ee" stroke-width="2.7" fill="none"/>
<path d="M 420.12,759.40 V 762.40" stroke="#6ec3ee" stroke-width="1.85" fill="none"/><path d="M 413.12,759.40 H 427.12 M 413.12,762.40 H 427.12" stroke="#6ec3ee" stroke-width="2.7" fill="none"/>
<path d="M 456.54,776.80 V 780.90" stroke="#6ec3ee" stroke-width="1.85" fill="none"/><path d="M 449.54,776.80 H 463.54 M 449.54,780.90 H 463.54" stroke="#6ec3ee" stroke-width="2.7" fill="none"/>
<path d="M 485.61,783.60 V 792.40" stroke="#6ec3ee" stroke-width="1.85" fill="none"/><path d="M 478.61,783.60 H 492.61 M 478.61,792.40 H 492.61" stroke="#6ec3ee" stroke-width="2.7" fill="none"/>
<path d="M 509.81,796.70 V 800.10" stroke="#6ec3ee" stroke-width="1.85" fill="none"/><path d="M 502.81,796.70 H 516.81 M 502.81,800.10 H 516.81" stroke="#6ec3ee" stroke-width="2.7" fill="none"/>
<path d="M 530.54,803.30 V 808.60" stroke="#6ec3ee" stroke-width="1.85" fill="none"/><path d="M 523.54,803.30 H 537.54 M 523.54,808.60 H 537.54" stroke="#6ec3ee" stroke-width="2.7" fill="none"/>
<path d="M 548.68,806.90 V 812.00" stroke="#6ec3ee" stroke-width="1.85" fill="none"/><path d="M 541.68,806.90 H 555.68 M 541.68,812.00 H 555.68" stroke="#6ec3ee" stroke-width="2.7" fill="none"/>
<path d="M 564.79,812.50 V 817.80" stroke="#6ec3ee" stroke-width="1.85" fill="none"/><path d="M 557.79,812.50 H 571.79 M 557.79,817.80 H 571.79" stroke="#6ec3ee" stroke-width="2.7" fill="none"/>
<path d="M 579.29,813.20 V 821.80" stroke="#6ec3ee" stroke-width="1.85" fill="none"/><path d="M 572.29,813.20 H 586.29 M 572.29,821.80 H 586.29" stroke="#6ec3ee" stroke-width="2.7" fill="none"/>
<path d="M 592.47,806.60 V 812.60" stroke="#6ec3ee" stroke-width="1.85" fill="none"/><path d="M 585.47,806.60 H 599.47 M 585.47,812.60 H 599.47" stroke="#6ec3ee" stroke-width="2.7" fill="none"/>
<polyline points="138.20,614.85 297.37,691.05 371.38,722.35 420.12,743.10 456.54,758.80 485.61,764.80 509.81,778.60 530.54,783.45 548.68,787.40 564.79,791.85 579.29,795.35 592.47,786.70" fill="none" stroke="#7a7ce6" stroke-width="1.85" stroke-dasharray="6.4,2.85"/>
<path d="M 138.20,614.30 V 615.40" stroke="#7a7ce6" stroke-width="1.85" fill="none"/><path d="M 131.20,614.30 H 145.20 M 131.20,615.40 H 145.20" stroke="#7a7ce6" stroke-width="2.7" fill="none"/>
<path d="M 297.37,690.20 V 691.90" stroke="#7a7ce6" stroke-width="1.85" fill="none"/><path d="M 290.37,690.20 H 304.37 M 290.37,691.90 H 304.37" stroke="#7a7ce6" stroke-width="2.7" fill="none"/>
<path d="M 371.38,721.20 V 723.50" stroke="#7a7ce6" stroke-width="1.85" fill="none"/><path d="M 364.38,721.20 H 378.38 M 364.38,723.50 H 378.38" stroke="#7a7ce6" stroke-width="2.7" fill="none"/>
<path d="M 420.12,741.60 V 744.60" stroke="#7a7ce6" stroke-width="1.85" fill="none"/><path d="M 413.12,741.60 H 427.12 M 413.12,744.60 H 427.12" stroke="#7a7ce6" stroke-width="2.7" fill="none"/>
<path d="M 456.54,755.80 V 761.80" stroke="#7a7ce6" stroke-width="1.85" fill="none"/><path d="M 449.54,755.80 H 463.54 M 449.54,761.80 H 463.54" stroke="#7a7ce6" stroke-width="2.7" fill="none"/>
<path d="M 485.61,761.80 V 767.80" stroke="#7a7ce6" stroke-width="1.85" fill="none"/><path d="M 478.61,761.80 H 492.61 M 478.61,767.80 H 492.61" stroke="#7a7ce6" stroke-width="2.7" fill="none"/>
<path d="M 509.81,776.90 V 780.30" stroke="#7a7ce6" stroke-width="1.85" fill="none"/><path d="M 502.81,776.90 H 516.81 M 502.81,780.30 H 516.81" stroke="#7a7ce6" stroke-width="2.7" fill="none"/>
<path d="M 530.54,779.90 V 787.00" stroke="#7a7ce6" stroke-width="1.85" fill="none"/><path d="M 523.54,779.90 H 537.54 M 523.54,787.00 H 537.54" stroke="#7a7ce6" stroke-width="2.7" fill="none"/>
<path d="M 548.68,784.30 V 790.50" stroke="#7a7ce6" stroke-width="1.85" fill="none"/><path d="M 541.68,784.30 H 555.68 M 541.68,790.50 H 555.68" stroke="#7a7ce6" stroke-width="2.7" fill="none"/>
<path d="M 564.79,788.20 V 795.50" stroke="#7a7ce6" stroke-width="1.85" fill="none"/><path d="M 557.79,788.20 H 571.79 M 557.79,795.50 H 571.79" stroke="#7a7ce6" stroke-width="2.7" fill="none"/>
<path d="M 579.29,791.50 V 799.20" stroke="#7a7ce6" stroke-width="1.85" fill="none"/><path d="M 572.29,791.50 H 586.29 M 572.29,799.20 H 586.29" stroke="#7a7ce6" stroke-width="2.7" fill="none"/>
<path d="M 592.47,784.00 V 789.40" stroke="#7a7ce6" stroke-width="1.85" fill="none"/><path d="M 585.47,784.00 H 599.47 M 585.47,789.40 H 599.47" stroke="#7a7ce6" stroke-width="2.7" fill="none"/>
</g>
<rect x="138.0" y="437.5" width="515.7" height="451.9" fill="none" stroke="#000" stroke-width="1.2"/>
<rect x="483" y="449.3" width="158.3" height="201" rx="3.5" fill="#fff" fill-opacity="0.8" stroke="#d6d6d6" stroke-width="1.15"/>
<path d="M 515.40,454.70 V 478.10" stroke="#00628b" stroke-width="1.85" fill="none"/><path d="M 508.40,454.70 H 522.40 M 508.40,478.10 H 522.40" stroke="#00628b" stroke-width="2.7" fill="none"/>
<circle cx="515.40" cy="466.40" r="4.75" fill="none" stroke="#00628b" stroke-width="2.9"/>
<path d="M 515.40,487.25 V 510.65" stroke="#6ec3ee" stroke-width="1.85" fill="none"/><path d="M 508.40,487.25 H 522.40 M 508.40,510.65 H 522.40" stroke="#6ec3ee" stroke-width="2.7" fill="none"/>
<path d="M 510.50,498.95 L 520.30,494.05 L 520.30,503.85 Z" fill="none" stroke="#6ec3ee" stroke-width="2.6" stroke-linejoin="miter"/>
<path d="M 515.40,519.80 V 543.20" stroke="#7a7ce6" stroke-width="1.85" fill="none"/><path d="M 508.40,519.80 H 522.40 M 508.40,543.20 H 522.40" stroke="#7a7ce6" stroke-width="2.7" fill="none"/>
<path d="M 515.40,525.20 L 521.70,531.50 L 515.40,537.80 L 509.10,531.50 Z" fill="none" stroke="#7a7ce6" stroke-width="2.6" stroke-linejoin="miter"/>
<path d="M 491.8,564.05 H 538.5" stroke="#00628b" stroke-width="1.45" stroke-dasharray="5.1,2.1" fill="none"/>
<path d="M 515.40,552.35 V 575.75" stroke="#00628b" stroke-width="1.85" fill="none"/><path d="M 508.40,552.35 H 522.40 M 508.40,575.75 H 522.40" stroke="#00628b" stroke-width="2.7" fill="none"/>
<path d="M 491.8,596.60 H 538.5" stroke="#6ec3ee" stroke-width="1.45" stroke-dasharray="5.1,2.1" fill="none"/>
<path d="M 515.40,584.90 V 608.30" stroke="#6ec3ee" stroke-width="1.85" fill="none"/><path d="M 508.40,584.90 H 522.40 M 508.40,608.30 H 522.40" stroke="#6ec3ee" stroke-width="2.7" fill="none"/>
<path d="M 491.8,629.15 H 538.5" stroke="#7a7ce6" stroke-width="1.45" stroke-dasharray="5.1,2.1" fill="none"/>
<path d="M 515.40,617.45 V 640.85" stroke="#7a7ce6" stroke-width="1.85" fill="none"/><path d="M 508.40,617.45 H 522.40 M 508.40,640.85 H 522.40" stroke="#7a7ce6" stroke-width="2.7" fill="none"/>
<text transform="translate(556.66,474.30) scale(0.2996,0.2318)" font-size="100" fill="#000" style="" >Δ</text>
<path d="M 582.3,465.00 H 597.2 M 582.3,470.10 H 597.2" stroke="#000" stroke-width="1.1" fill="none"/>
<text transform="translate(603.71,474.28) scale(0.2334,0.2253)" font-size="100" fill="#000" style="" >0.8</text>
<text transform="translate(556.66,506.85) scale(0.2996,0.2318)" font-size="100" fill="#000" style="" >Δ</text>
<path d="M 582.3,497.55 H 597.2 M 582.3,502.65 H 597.2" stroke="#000" stroke-width="1.1" fill="none"/>
<text transform="translate(603.72,506.83) scale(0.2318,0.2253)" font-size="100" fill="#000" style="" >0.6</text>
<text transform="translate(556.66,539.40) scale(0.2996,0.2318)" font-size="100" fill="#000" style="" >Δ</text>
<path d="M 582.3,530.10 H 597.2 M 582.3,535.20 H 597.2" stroke="#000" stroke-width="1.1" fill="none"/>
<text transform="translate(603.73,539.38) scale(0.2290,0.2253)" font-size="100" fill="#000" style="" >0.4</text>
<text transform="translate(556.66,571.95) scale(0.2996,0.2318)" font-size="100" fill="#000" style="" >Δ</text>
<path d="M 582.3,562.65 H 597.2 M 582.3,567.75 H 597.2" stroke="#000" stroke-width="1.1" fill="none"/>
<text transform="translate(603.71,571.93) scale(0.2334,0.2253)" font-size="100" fill="#000" style="" >0.8</text>
<text transform="translate(556.66,604.50) scale(0.2996,0.2318)" font-size="100" fill="#000" style="" >Δ</text>
<path d="M 582.3,595.20 H 597.2 M 582.3,600.30 H 597.2" stroke="#000" stroke-width="1.1" fill="none"/>
<text transform="translate(603.72,604.48) scale(0.2318,0.2253)" font-size="100" fill="#000" style="" >0.6</text>
<text transform="translate(556.66,637.05) scale(0.2996,0.2318)" font-size="100" fill="#000" style="" >Δ</text>
<path d="M 582.3,627.75 H 597.2 M 582.3,632.85 H 597.2" stroke="#000" stroke-width="1.1" fill="none"/>
<text transform="translate(603.73,637.03) scale(0.2290,0.2253)" font-size="100" fill="#000" style="" >0.4</text>
<text transform="translate(77.29,452.41) scale(0.3764,0.4031)" font-size="100" fill="#000" style="" >10</text><text transform="translate(115.43,437.73) scale(0.2548,0.2786)" font-size="100" fill="#000" style="" >0</text>
<text transform="translate(57.19,673.01) scale(0.3764,0.4031)" font-size="100" fill="#000" style="" >10</text><path d="M 97.10,650.10 H 114.10" stroke="#000" stroke-width="1.25" fill="none"/><text transform="translate(116.10,658.00) scale(0.2727,0.2848)" font-size="100" fill="#000" style="" >1</text>
<text transform="translate(57.29,894.21) scale(0.3764,0.4031)" font-size="100" fill="#000" style="" >10</text><path d="M 97.20,871.30 H 114.20" stroke="#000" stroke-width="1.25" fill="none"/><text transform="translate(116.65,879.00) scale(0.2844,0.2809)" font-size="100" fill="#000" style="" >2</text>
<text transform="translate(112.49,926.11) scale(0.3764,0.4031)" font-size="100" fill="#000" style="" >10</text><text transform="translate(150.63,911.43) scale(0.2548,0.2786)" font-size="100" fill="#000" style="" >0</text>
<text transform="translate(445.89,926.11) scale(0.3764,0.4031)" font-size="100" fill="#000" style="" >10</text><text transform="translate(483.45,911.50) scale(0.2670,0.2848)" font-size="100" fill="#000" style="" >1</text>
<text transform="translate(152.31,487.09) scale(0.3387,0.3948)" font-size="100" fill="#000" style="" >(</text><text transform="translate(163.91,486.47) scale(0.3554,0.3410)" font-size="100" fill="#000" style="font-style:italic;" >c</text><text transform="translate(178.71,487.09) scale(0.3387,0.3948)" font-size="100" fill="#000" style="" >)</text>
<text transform="translate(385.40,966.20) scale(0.4693,0.3905)" font-size="100" fill="#000" style="font-style:italic;" >r</text>
<g transform="translate(0,716) rotate(-90)">
<text transform="translate(-2.82,44.44) scale(0.3213,0.3782)" font-size="100" fill="#000" style="" >|</text>
<text transform="translate(4.43,44.94) scale(0.3352,0.3843)" font-size="100" fill="#000" style="font-style:italic;" >C</text>
<text transform="translate(29.38,32.70) scale(0.3098,0.2331)" font-size="100" fill="#000" style="font-style:italic;" >x</text><text transform="translate(44.48,32.70) scale(0.3098,0.2331)" font-size="100" fill="#000" style="font-style:italic;" >x</text>
<text transform="translate(61.20,44.52) scale(0.2725,0.3794)" font-size="100" fill="#000" style="" >(</text>
<text transform="translate(70.90,44.00) scale(0.3954,0.3332)" font-size="100" fill="#000" style="font-style:italic;" >r</text>
<text transform="translate(88.55,44.52) scale(0.2959,0.3794)" font-size="100" fill="#000" style="" >)</text>
<text transform="translate(102.08,44.44) scale(0.3213,0.3782)" font-size="100" fill="#000" style="" >|</text>
</g>
</svg>
</body></html>
